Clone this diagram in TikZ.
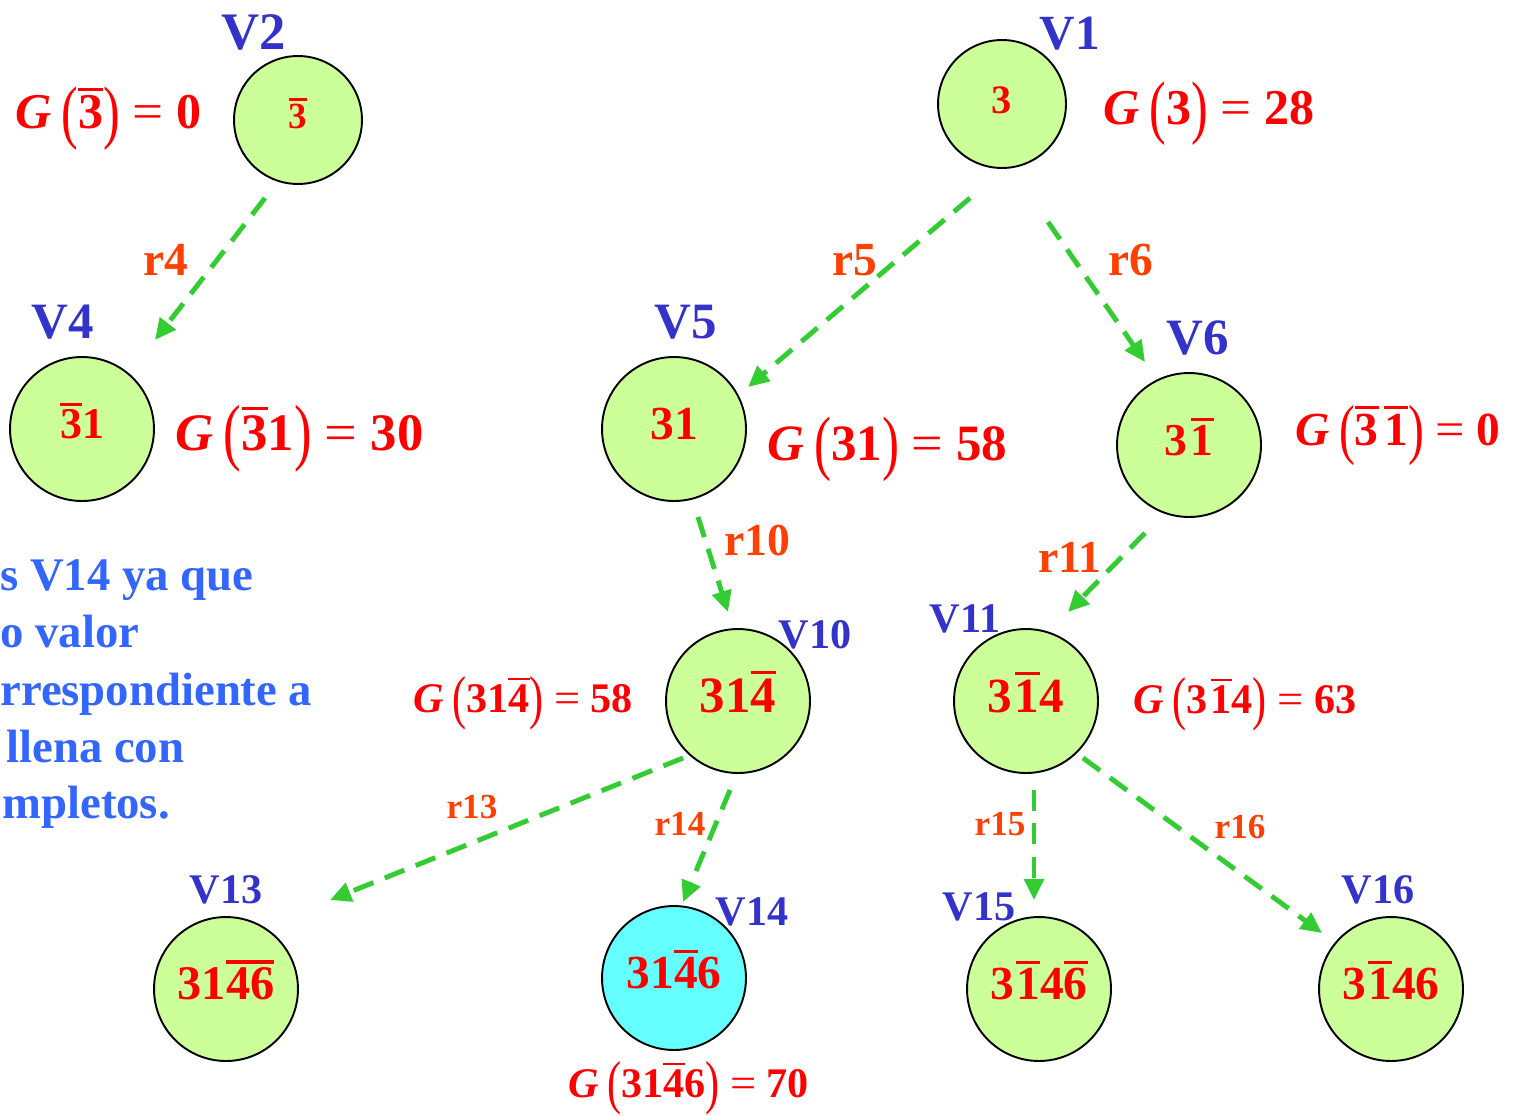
\documentclass[tikz,border=0pt]{standalone}
\usepackage{fontspec}
\setmainfont{Liberation Serif}
\usepackage{graphicx}
\usetikzlibrary{arrows.meta,calc}
\definecolor{nodegreen}{HTML}{CCFF99}
\definecolor{nodecyan}{HTML}{66FFFF}
\definecolor{vblue}{HTML}{3333CC}
\definecolor{txtblue}{HTML}{3366FF}
\definecolor{egreen}{HTML}{33CC33}
\definecolor{rorange}{HTML}{FF4000}
\newcommand\ob[1]{\vbox{\hrule height .065em\kern.09em\hbox{#1}}}
\newcommand\nt[1]{\raisebox{0pt}[.57em][.12em]{#1}}
\newcommand\lpar{\raisebox{-.13em}{\mdseries\scalebox{1}[1.4]{(}}}
\newcommand\rpar{\raisebox{-.13em}{\mdseries\scalebox{1}[1.4]{)}}}
\newcommand\Geq[2]{\textit{G}\kern.2em\lpar#1\rpar\kern.25em{\mdseries\scalebox{1.1}[1]{=}}\kern.25em#2}
\begin{document}
\begin{tikzpicture}[x=0.02cm,y=-0.02cm,
  fs/.style={font=\bfseries\fontsize{#1}{#1}\selectfont},
  vnode/.style={circle, draw=black, line width=1.1pt, fill=nodegreen, inner sep=0pt,
    minimum size=2.88cm, text=red},
  vsmall/.style={vnode, minimum size=2.56cm},
  vlab/.style={text=vblue, anchor=base, inner sep=0pt},
  glab/.style={text=red, anchor=base west, inner sep=0pt},
  rlab/.style={text=rorange, anchor=base, inner sep=0pt},
  note/.style={text=txtblue, anchor=base west, inner sep=0pt, fs=26.6},
  link/.style={draw=egreen, line width=2.8pt, dash pattern=on 12pt off 7pt,
    -{Triangle[length=12pt,width=11pt]}}]
\useasboundingbox (0,0) rectangle (1513,1115);
\clip (0,0) rectangle (1513,1115);

% nodes
\node[vsmall, fs=21] (v2) at (298,120) {\nt{\ob{3}}};
\node[vsmall, fs=23] (v1) at (1002,104) {\nt{3}};
\node[vnode, fs=25] (v4) at (82,429) {\nt{\ob{3}1}};
\node[vnode, fs=27] (v5) at (674,429) {\nt{31}};
\node[vnode, fs=26] (v6) at (1189,445) {\nt{3\kern.08em\ob{1}}};
\node[vnode, fs=29] (v10) at (738,701) {\nt{31\ob{4}}};
\node[vnode, fs=28] (v11) at (1026,701) {\nt{3\kern.05em\ob{1}4}};
\node[vnode, fs=27.5] (v13) at (226,989) {\nt{31\ob{46}}};
\node[vnode, fs=27] (v14) at (674,978) [fill=nodecyan] {\nt{31\ob{4}6}};
\node[vnode, fs=27] (v15) at (1039,989) {\nt{3\kern.05em\ob{1}4\ob{6}}};
\node[vnode, fs=27] (v16) at (1391,989) {\nt{3\kern.05em\ob{1}46}};

% V labels
\node[vlab, fs=30] (l2) at (254,50) {V2};
\node[vlab, fs=28] (l1) at (1070,50) {V1};
\node[vlab, fs=29] (l4) at (63,338) {V4};
\node[vlab, fs=29] (l5) at (686,338) {V5};
\node[vlab, fs=29] (l6) at (1198,354) {V6};
\node[vlab, fs=24] (l10) at (815,648) {V10};
\node[vlab, fs=24] (l11) at (965,632) {V11};
\node[vlab, fs=24] (l13) at (226,903) {V13};
\node[vlab, fs=24] (l14) at (752,925) {V14};
\node[vlab, fs=24] (l15) at (979,920) {V15};
\node[vlab, fs=24] (l16) at (1378,903) {V16};

% G labels
\node[glab, fs=28.5] (g2) at (15,129) {\Geq{\ob{3}}{0}};
\node[glab, fs=28.5] (g1) at (1103,124) {\Geq{3}{28}};
\node[glab, fs=30] (g4) at (175,450) {\Geq{\ob{3}1}{30}};
\node[glab, fs=29] (g5) at (767,460) {\Geq{31}{58}};
\node[glab, fs=27] (g6) at (1295,445) {\Geq{\ob{3}\kern.12em\ob{1}}{0}};
\node[glab, fs=24] (g10) at (413,712) {\Geq{31\ob{4}}{58}};
\node[glab, fs=24] (g11) at (1133,713) {\Geq{3\kern.08em\ob{1}4}{63}};
\node[glab, fs=24] (g14) at (568,1097) {\Geq{31\ob{4}6}{70}};

% edge labels
\node[rlab, fs=27] (r4) at (166,275) {r4};
\node[rlab, fs=27] (r5) at (855,275) {r5};
\node[rlab, fs=27] (r6) at (1131,275) {r6};
\node[rlab, fs=26] (r10) at (757,555) {r10};
\node[rlab, fs=26] (r11) at (1070,572) {r11};
\node[rlab, fs=20] (r13) at (472,818) {r13};
\node[rlab, fs=20] (r14) at (680,835) {r14};
\node[rlab, fs=20] (r15) at (1000,835) {r15};
\node[rlab, fs=20] (r16) at (1240,838) {r16};

% connectors
\draw[link] ($(v2)+(-33,78)$) -- ($(v4)+(73,-89)$);
\draw[link] ($(v1)+(-32,94)$) -- ($(v5)+(74,-42)$);
\draw[link] ($(v1)+(46,118)$) -- ($(v6)+(-44,-83)$);
\draw[link] ($(v5)+(24,88)$) -- ($(v10)+(-10,-89)$);
\draw[link] ($(v6)+(-44,88)$) -- ($(v11)+(42,-89)$);
\draw[link] ($(v10)+(-55,57)$) -- ($(v13)+(104,-89)$);
\draw[link] ($(v10)+(-8,89)$) -- ($(v14)+(9,-76)$);
\draw[link] ($(v11)+(8,89)$) -- ($(v15)+(-5,-89)$);
\draw[link] ($(v11)+(57,57)$) -- ($(v16)+(-69,-56)$);

% note text (cut at left edge)
\node[note] (n1) at (0,590) {s V14 ya que};
\node[note] (n2) at (0,647) {o valor};
\node[note] (n3) at (0,705) {rrespondiente a};
\node[note] (n4) at (6,762) {llena con};
\node[note] (n5) at (2,818) {mpletos.};
\end{tikzpicture}
\end{document}
